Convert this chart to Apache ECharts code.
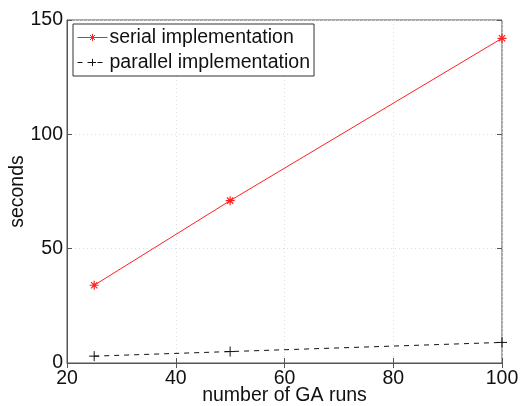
<!DOCTYPE html>
<html>
<head>
<meta charset="utf-8">
<script src="https://cdn.jsdelivr.net/npm/echarts@6/dist/echarts.min.js"></script>
<style>
html,body{margin:0;padding:0;background:#fff;}
#main{width:520px;height:406px;}
</style>
</head>
<body>
<div id="main"></div>
<script>
var runs = [25, 50, 100];
var serialTimes = [34, 71, 142];
var parallelTimes = [3, 5, 9];

var chart = echarts.init(document.getElementById('main'));
var font = 'Liberation Sans, Arial, sans-serif';
var fs = 19.5;

function pairs(xs, ys){
	var out = [];
	for (var i = 0; i < xs.length; i++) out.push([xs[i], ys[i]]);
	return out;
}

var plusPath = 'path://M0,5L10,5M5,0L5,10';
var starPath = 'path://M0,5L10,5M5,0L5,10M1.5,1.5L8.5,8.5M1.5,8.5L8.5,1.5';

var option = {
	animation: false,
	backgroundColor: '#fff',
	grid: { left: 67, right: 18, top: 20, bottom: 43, outerBoundsMode: 'none', show: true, borderColor: '#555', borderWidth: 1 },
	legend: {
		orient: 'vertical',
		left: 73, top: 24,
		padding: [3, 4, 3, 4],
		itemGap: 4,
		itemWidth: 30, itemHeight: 9,
		backgroundColor: '#fff',
		borderColor: '#333', borderWidth: 1, borderRadius: 0,
		lineStyle: { width: 1 },
		itemStyle: { borderWidth: 1 },
		textStyle: { fontFamily: font, fontSize: fs, lineHeight: 21, color: '#111', padding: [0, 0, 0, -3] },
		data: ['serial implementation', 'parallel implementation']
	},
	xAxis: [{
		type: 'value', min: 20, max: 100, interval: 20,
		name: 'number of GA runs', nameLocation: 'middle', nameGap: 23, nameMoveOverlap: false,
		nameTextStyle: { fontFamily: font, fontSize: fs, color: '#111' },
		axisLine: { show: true, lineStyle: { color: '#555' } },
		axisTick: { inside: true, length: 5, lineStyle: { color: '#555' } },
		axisLabel: { fontFamily: font, fontSize: fs, color: '#111', margin: 6 },
		splitLine: { show: true, lineStyle: { color: '#ddd', type: [1, 3] } }
	}, {
		type: 'value', min: 20, max: 100, interval: 20, position: 'top',
		axisLine: { show: false },
		axisTick: { inside: true, length: 5, lineStyle: { color: '#555' } },
		axisLabel: { show: false }, splitLine: { show: false }
	}],
	yAxis: [{
		type: 'value', min: 0, max: 150, interval: 50,
		name: 'seconds', nameLocation: 'middle', nameGap: 39, nameMoveOverlap: false,
		nameTextStyle: { fontFamily: font, fontSize: fs, color: '#111' },
		axisLine: { show: true, lineStyle: { color: '#555' } },
		axisTick: { inside: true, length: 5, lineStyle: { color: '#555' } },
		axisLabel: { fontFamily: font, fontSize: fs, color: '#111', margin: 4 },
		splitLine: { show: true, lineStyle: { color: '#ddd', type: [1, 3] } }
	}, {
		type: 'value', min: 0, max: 150, interval: 50, position: 'right',
		axisLine: { show: false },
		axisTick: { show: true, inside: true, length: 5, lineStyle: { color: '#555' } },
		axisLabel: { show: false }, splitLine: { show: false }
	}],
	series: [{
		name: 'serial implementation',
		type: 'line',
		data: pairs(runs, serialTimes),
		symbol: starPath, symbolSize: 9,
		itemStyle: { color: 'none', borderColor: '#ff2020', borderWidth: 1.2 },
		lineStyle: { color: '#ff2020', width: 1 }
	}, {
		name: 'parallel implementation',
		type: 'line',
		data: pairs(runs, parallelTimes),
		symbol: plusPath, symbolSize: 10,
		itemStyle: { color: 'none', borderColor: '#111', borderWidth: 1 },
		lineStyle: { color: '#111', width: 1, type: [5, 5] }
	}]
};
chart.setOption(option);
</script>
</body>
</html>
